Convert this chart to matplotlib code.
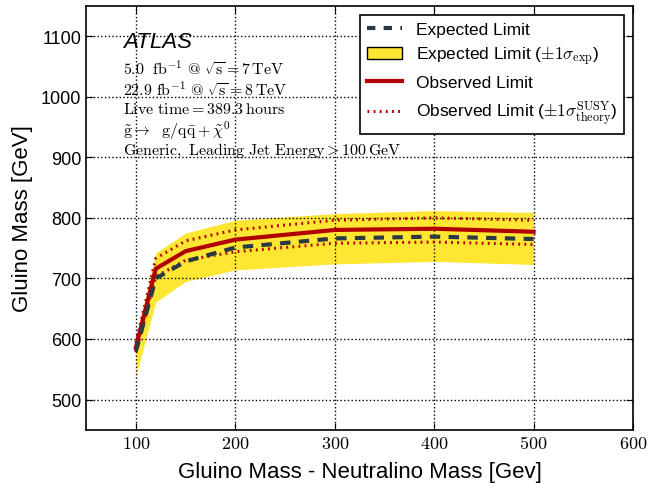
import numpy as np
import matplotlib
matplotlib.use('Agg')
import matplotlib.pyplot as plt
from matplotlib.patches import Patch
from matplotlib.lines import Line2D

plt.rcParams['mathtext.fontset'] = 'cm'
plt.rcParams['font.family'] = ['Liberation Sans', 'DejaVu Sans']

# mass difference points (GeV)
dm = [100, 120, 150, 200, 300, 400, 500]
expected = [580, 700, 728, 751, 766, 769, 765]
exp_up = [602, 742, 775, 796, 807, 812, 809]
exp_down = [539, 661, 695, 714, 724, 728, 723]
observed = [586, 716, 745, 764, 780, 782, 777]
obs_up = [594, 733, 762, 780, 796, 800, 796]
obs_down = [578, 703, 730, 744, 758, 760, 756]

xticks = [100, 200, 300, 400, 500, 600]
yticks = [500, 600, 700, 800, 900, 1000, 1100]

yellow = '#ffe633'
red = '#b00000'
dark = '#2b3a42'

fig = plt.figure(figsize=(6.58, 4.89), dpi=100)
ax = fig.add_axes([0.131, 0.119, 0.831, 0.867])

ax.fill_between(dm, exp_down, exp_up, color=yellow, lw=0)
ax.plot(dm, obs_up, color=red, lw=2.2, ls=(0, (0.6, 1.4)))
ax.plot(dm, obs_down, color=red, lw=2.2, ls=(0, (0.6, 1.4)))
ax.plot(dm, observed, color=red, lw=3)
ax.plot(dm, expected, color=dark, lw=3, ls=(0, (2.5, 2)))

ax.set_xlim(50, 600)
ax.set_ylim(450, 1150)
ax.set_xticks(xticks)
ax.set_xticklabels(['$%d$' % v for v in xticks], fontsize=13)
ax.set_yticks(yticks)
ax.tick_params(axis='y', labelsize=13)
ax.tick_params(direction='in', top=True, right=True, length=5, color='black')
ax.grid(True, color='black', ls=':', lw=1)
for s in ax.spines.values():
    s.set_linewidth(1.2)

ax.set_xlabel('Gluino Mass - Neutralino Mass [Gev]', fontsize=16, labelpad=7)
ax.set_ylabel('Gluino Mass [GeV]', fontsize=16, labelpad=6)

ax.text(0.068, 0.915, 'ATLAS', transform=ax.transAxes, fontsize=16,
        style='italic', va='center')
lines = [
    r'$5.0\ \ \mathrm{fb}^{-1}\ @\ \sqrt{\mathrm{s}} = 7\,\mathrm{TeV}$',
    r'$22.9\ \mathrm{fb}^{-1}\ @\ \sqrt{\mathrm{s}} = 8\,\mathrm{TeV}$',
    r'$\mathrm{Live\ time} = 389.3\,\mathrm{hours}$',
    r'$\tilde{\mathrm{g}} \rightarrow\ \ \mathrm{g}/\mathrm{q}\bar{\mathrm{q}} + \tilde{\chi}^0$',
    r'$\mathrm{Generic,\ Leading\ Jet\ Energy} > 100\,\mathrm{GeV}$',
]
for i, t in enumerate(lines):
    ax.text(0.068, 0.854 - i * 0.0485, t, transform=ax.transAxes,
            fontsize=11.5, va='center')

handles = [
    Line2D([], [], color=dark, lw=3, ls=(0, (2, 2))),
    Patch(facecolor=yellow, edgecolor='black', lw=1),
    Line2D([], [], color=red, lw=3),
    Line2D([], [], color=red, lw=2.2, ls=(0, (0.6, 1.4))),
]
labels = [
    'Expected Limit',
    r'Expected Limit ($\pm 1\sigma_{\mathrm{exp}}$)',
    'Observed Limit',
    r'Observed Limit ($\pm 1\sigma_{\mathrm{theory}}^{\mathrm{SUSY}}$)',
]
leg = ax.legend(handles, labels, loc='upper right', fontsize=12.5,
                frameon=True, fancybox=False, edgecolor='black',
                framealpha=1, borderaxespad=0.5, handlelength=2.0,
                labelspacing=0.45)
leg.get_frame().set_linewidth(1.2)

fig.savefig('out.png', dpi=100)
